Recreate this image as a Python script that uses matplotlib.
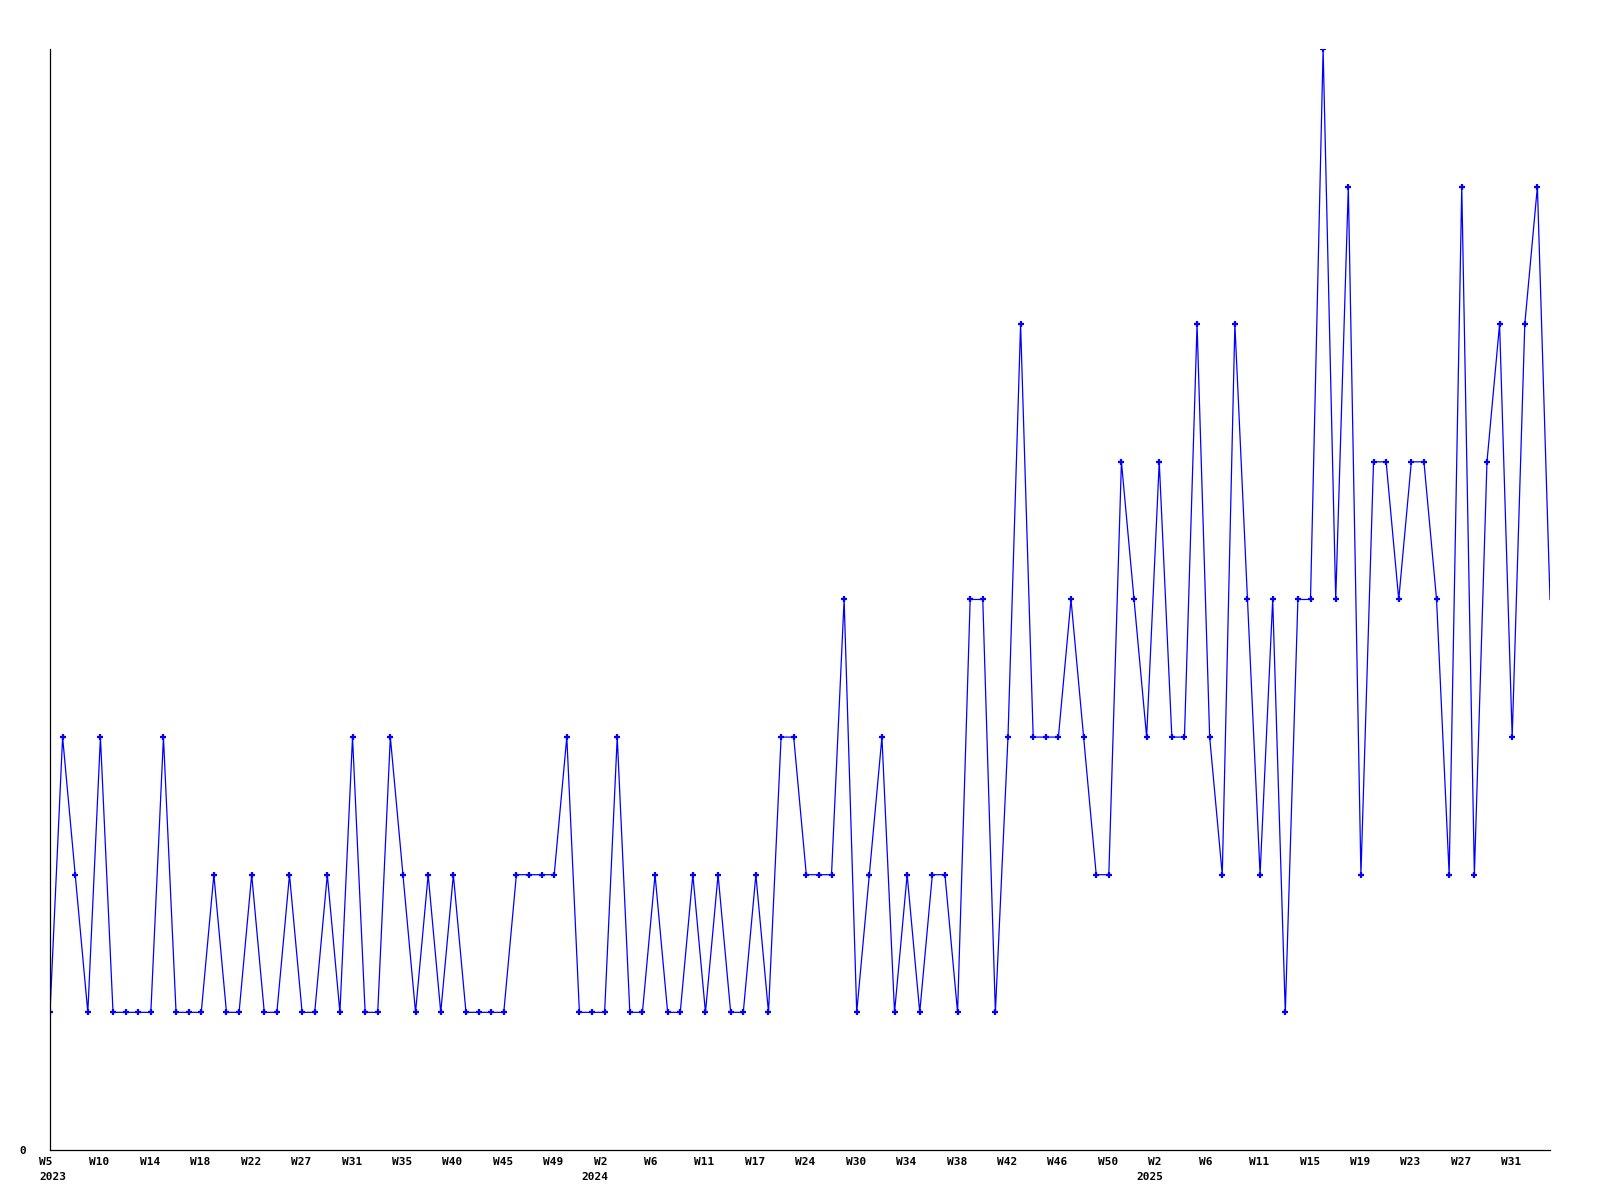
import matplotlib.pyplot as plt
from matplotlib.transforms import offset_copy

# weekly counts, 2023 W5 .. 2025 ~W34 (one point per row in the source data)
counts = [1, 3, 2, 1, 3, 1, 1, 1, 1, 3,
          1, 1, 1, 2, 1, 1, 2, 1, 1, 2,
          1, 1, 2, 1, 3, 1, 1, 3, 2, 1,
          2, 1, 2, 1, 1, 1, 1, 2, 2, 2,
          2, 3, 1, 1, 1, 3, 1, 1, 2, 1,
          1, 2, 1, 2, 1, 1, 2, 1, 3, 3,
          2, 2, 2, 4, 1, 2, 3, 1, 2, 1,
          2, 2, 1, 4, 4, 1, 3, 6, 3, 3,
          3, 4, 3, 2, 2, 5, 4, 3, 5, 3,
          3, 6, 3, 2, 6, 4, 2, 4, 1, 4,
          4, 8, 4, 7, 2, 5, 5, 4, 5, 5,
          4, 2, 7, 2, 5, 6, 3, 6, 7, 4]

# one label every 4 points
week_labels = ['W5', 'W10', 'W14', 'W18', 'W22', 'W27', 'W31', 'W35', 'W40', 'W45',
               'W49', 'W2', 'W6', 'W11', 'W17', 'W24', 'W30', 'W34', 'W38', 'W42',
               'W46', 'W50', 'W2', 'W6', 'W11', 'W15', 'W19', 'W23', 'W27', 'W31']
year_labels = {0: '2023', 11: '2024', 22: '2025'}

x = list(range(len(counts)))
tick_pos = x[::4]

fig = plt.figure(figsize=(16, 12), dpi=100)
ax = fig.add_axes([0.03125, 0.0417, 0.9375, 0.9175])

ax.plot(x, counts, color='#0000ff', lw=0.9)
ax.plot(x[:-1], counts[:-1], ls='none', marker='+', ms=4, mew=1.6, color='#0000ff')

ax.set_xlim(0, len(counts) - 1)
ax.set_ylim(0, max(counts))

for s in ['top', 'right']:
    ax.spines[s].set_visible(False)
for s in ['left', 'bottom']:
    ax.spines[s].set_linewidth(0.9)
    ax.spines[s].set_color('black')

font = dict(family='DejaVu Sans Mono', fontweight='bold', fontsize=8)

ax.set_yticks([0])
ax.set_yticklabels(['0'], **font)
ax.set_xticks(tick_pos)
ax.set_xticklabels([])
ax.tick_params(axis='both', length=0)
ax.tick_params(axis='y', pad=17)

# week labels start a bit left of their point, year labels a bit further left
base = ax.get_xaxis_transform()
wk_tr = offset_copy(base, fig=fig, x=-11, y=-7, units='dots')
for i, (p, w) in enumerate(zip(tick_pos, week_labels)):
    ax.text(p, 0, w, transform=wk_tr, ha='left', va='top', **font)
    if i in year_labels:
        dx = -11 if i == 0 else -23
        yr_tr = offset_copy(base, fig=fig, x=dx, y=-22, units='dots')
        ax.text(p, 0, year_labels[i], transform=yr_tr, ha='left', va='top', **font)

fig.savefig('out.png', dpi=100)
